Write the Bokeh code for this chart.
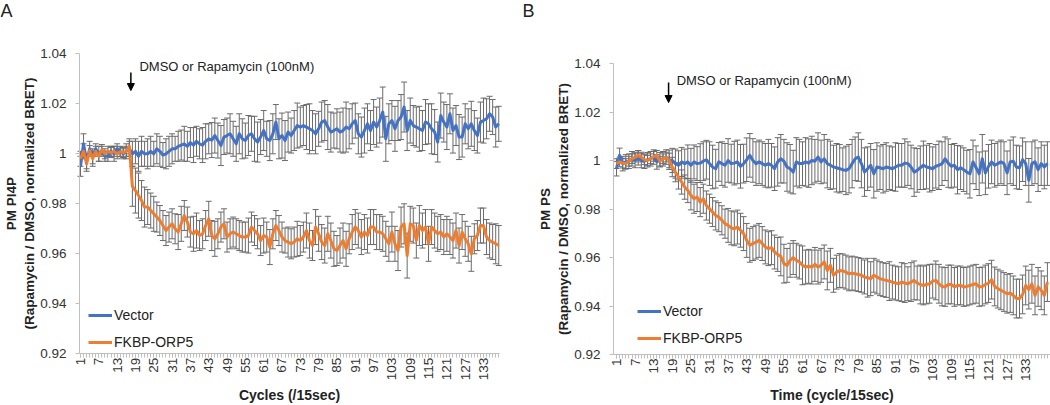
import math
from bokeh.plotting import figure
from bokeh.layouts import row
from bokeh.models import (ColumnDataSource, Whisker, TeeHead, Range1d, FixedTicker,
                          Legend, LegendItem, Label, Arrow, NormalHead)
from bokeh.embed import file_html
from bokeh.resources import INLINE

# ---------------- data ----------------
x_tick_pos = [1, 7, 13, 19, 25, 31, 37, 43, 49, 55, 61, 67, 73, 79, 85, 91, 97, 103, 109, 115, 121, 127, 133]
x_tick_labels = ["1", "7", "13", "19", "25", "31", "37", "43", "49", "55", "61", "67", "73", "79", "85",
                 "91", "97", "103", "109", "115", "121", "127", "133"]
y_tick_values = [0.92, 0.94, 0.96, 0.98, 1.0, 1.02, 1.04]
y_tick_labels = ["0.92", "0.94", "0.96", "0.98", "1", "1.02", "1.04"]
series_names = ["Vector", "FKBP-ORP5"]

# Panel A: PM PI4P (138 cycles)
a_vector = [0.995, 1.004, 0.997, 1.002, 0.999, 1.002, 1.000, 1.001, 0.999, 0.999, 1.001, 1.000, 1.002, 1.001, 1.000, 1.001, 1.002,
            1.000, 1.001, 0.999, 1.001, 1.000, 1.000, 1.001, 1.000, 1.002, 1.001, 0.9995, 1.000, 1.001, 1.002, 1.002,
            1.003, 1.0035, 1.004, 1.003, 1.0045, 1.0035, 1.005, 1.004, 1.0035, 1.005, 1.006, 1.0055, 1.0073,
            1.0053, 1.0033, 1.0067, 1.0073, 1.008, 1.006, 1.004, 1.008, 1.006, 1.0053, 1.0073, 1.008, 1.006, 1.0047, 1.0067, 1.0093,
            1.006, 1.0053, 1.008, 1.0127, 1.006, 1.0073, 1.0053, 1.0087, 1.0073, 1.0093, 1.0113, 1.0107, 1.0113, 1.0107, 1.010, 1.0093,
            1.008, 1.010, 1.0127, 1.0133, 1.0107, 1.0087, 1.0093, 1.010, 1.0087, 1.0093, 1.0107, 1.010, 1.012, 1.0133, 1.008, 1.0067,
            1.0093, 1.012, 1.0093, 1.0127, 1.0107, 1.0133, 1.0167, 1.006, 1.012, 1.0133, 1.010, 1.0133, 1.0147, 1.0187, 1.0093,
            1.0133, 1.0113, 1.0107, 1.010, 1.0093, 1.0127, 1.012, 1.010, 1.0087, 1.0047, 1.0153, 1.0127, 1.0107, 1.016, 1.0093,
            1.0113, 1.0067, 1.0067, 1.012, 1.010, 1.012, 1.0093, 1.0073, 1.0127, 1.0133, 1.014, 1.016, 1.0147, 1.0107, 1.012]
a_fkbp = [0.998, 1.001, 0.996, 1.0013, 0.998, 1.001, 0.999, 1.0017, 1.000, 1.001, 1.0005, 1.001, 1.000, 1.0008, 1.0005, 1.001, 1.003,
          0.987, 0.9853, 0.9833, 0.9813, 0.9787, 0.9787, 0.9773, 0.976, 0.9747, 0.9733, 0.9713, 0.9693, 0.9707, 0.972, 0.970,
          0.9687, 0.972, 0.9753, 0.9727, 0.9687, 0.968, 0.9693, 0.9673, 0.968, 0.9713, 0.974, 0.9673, 0.966,
          0.968, 0.9707, 0.972, 0.9667, 0.968, 0.9687, 0.968, 0.9673, 0.9667, 0.9667, 0.9673, 0.9707, 0.9693, 0.968, 0.9653, 0.9673,
          0.9667, 0.9627, 0.968, 0.9713, 0.9693, 0.9667, 0.9653, 0.9647, 0.964, 0.9647, 0.966, 0.9653, 0.9667, 0.9693, 0.9653, 0.9633,
          0.9707, 0.968, 0.9647, 0.9633, 0.968, 0.9653, 0.962, 0.9613, 0.9633, 0.9653, 0.962, 0.966, 0.9687, 0.9707, 0.9693, 0.9667,
          0.9687, 0.9673, 0.9707, 0.9707, 0.9687, 0.9687, 0.968, 0.966, 0.964, 0.9687, 0.964, 0.9613, 0.9707, 0.972, 0.9593,
          0.972, 0.9713, 0.9653, 0.9713, 0.9693, 0.9707, 0.964, 0.9707, 0.9693, 0.968, 0.9687, 0.9667, 0.968, 0.9667, 0.9653,
          0.9693, 0.9633, 0.9687, 0.966, 0.964, 0.960, 0.966, 0.9673, 0.9713, 0.9713, 0.9667, 0.9653, 0.9647, 0.964, 0.9633]
# error bars, in thousandths
a_vector_err = [4, 4, 3, 3, 3, 2, 3, 2, 2, 2, 2, 3, 2, 2, 2, 3, 3,
                5, 5, 6, 6, 5, 6, 6, 5, 6, 6, 5, 6, 6, 6, 5, 6, 6, 7, 6, 6, 7, 6, 6, 7, 7, 6, 7, 7,
                7, 8, 7, 7, 8, 7, 7, 8, 8, 7, 8, 7, 9, 8, 7, 8, 7, 8, 8, 7, 8, 9, 8, 8, 7, 8, 9, 8, 8, 9,
                10, 8, 8, 7, 8, 8, 9, 8, 7, 8, 8, 9, 10, 8, 8, 7, 8, 8,
                9, 8, 8, 9, 8, 9, 10, 9, 8, 8, 9, 8, 9, 10, 8, 9, 8, 8, 9, 8, 9, 8, 10, 9, 8, 9, 8, 9, 8, 9,
                8, 9, 8, 8, 8, 9, 8, 7, 8, 9, 8, 7, 7, 8, 7]
a_fkbp_err = [3, 3, 3, 2, 3, 2, 2, 2, 2, 2, 2, 2, 2, 2, 2, 2, 3,
              8, 9, 9, 8, 8, 7, 7, 7, 6, 6, 6, 6, 6, 6, 6, 7, 7, 6, 6, 6, 7, 7, 6, 6, 6, 7, 6, 7,
              6, 6, 6, 6, 6, 6, 6, 6, 6, 6, 7, 6, 6, 6, 6, 7, 6, 7, 6, 6, 6, 6, 5, 6, 6, 6, 7, 6, 6, 7,
              7, 6, 7, 7, 7, 7, 7, 7, 7, 6, 7, 7, 7, 6, 7, 7, 7, 7,
              7, 7, 7, 7, 7, 7, 7, 7, 7, 8, 7, 8, 8, 8, 9, 7, 7, 7, 8, 7, 7, 7, 7, 7, 7, 7, 7, 7, 7, 7,
              7, 7, 7, 7, 7, 7, 6, 6, 7, 7, 7, 7, 7, 8, 8]

# Panel B: PM PS (140 cycles)
b_vector = [0.9967, 1.0022, 0.9988, 0.9995, 0.9998, 1.0008, 1.0001, 1.0012, 1.0001, 0.9998,
            1.0004, 1.0008, 1.0015, 0.9995, 1.0004, 1.0008, 1.0015, 1.0004, 1.0001, 0.9988,
            0.9981, 0.9995, 0.9988, 0.9995, 0.9981, 0.9995, 0.9988, 0.999, 0.9998, 1.0004,
            0.9988, 0.9974, 0.9967, 0.9995, 0.9988, 0.9981, 1.0001, 0.9988, 0.999, 0.9995,
            0.9977, 0.9988, 1.0004, 1.0022, 1.0001, 0.9988,
            0.9995, 0.9988, 0.9981, 0.9988, 0.9981, 0.9967, 0.9995, 1.0008, 0.9998, 0.9974,
            0.9967, 0.9953, 0.9995, 0.9988, 0.9988, 0.9995, 0.999, 1.0001, 0.9998, 1.0015,
            0.9995, 1.0008, 0.9988, 0.9981, 0.9974, 0.9971, 0.9967, 0.9963, 0.996, 0.9967,
            0.9988, 1.0008, 1.0015, 0.9988, 0.9953, 0.9967, 0.9981, 0.9946, 0.9974, 0.9971,
            0.9967, 0.9974, 0.9971, 0.9967, 0.9974, 0.9981,
            0.9981, 0.999, 0.9988, 0.9974, 0.9953, 0.996, 0.9971, 0.9981, 0.9974, 0.9971,
            0.9967, 0.9977, 0.9981, 0.9988, 1.0008, 0.999, 0.9977, 0.9981, 0.9963, 0.9971,
            0.9963, 0.9953, 0.9946, 0.9995, 0.9971, 0.9946, 1.0008, 0.995, 0.9977, 0.9995,
            0.9981, 0.9988, 0.9995, 0.9988, 0.995, 0.9995, 0.9998, 0.9974, 0.9971, 1.0004,
            0.9988, 0.9919, 0.9988, 0.9995, 0.9963, 0.9988, 0.9974, 0.9988]
b_fkbp = [0.9988, 0.9995, 0.999, 0.9988, 0.9998, 1.0008, 1.0015, 1.0022, 1.0015, 1.0004,
          1.0001, 1.0008, 1.0018, 1.0022, 0.9998, 1.0008, 1.0015, 1.0001, 0.9974, 0.9953,
          0.9933, 0.9912, 0.9891, 0.9877, 0.9857, 0.9843, 0.985, 0.9829, 0.9843, 0.9815,
          0.9802, 0.9788, 0.9774, 0.9767, 0.9754, 0.974, 0.9733, 0.9723, 0.9719, 0.9726,
          0.9713, 0.9699, 0.9671, 0.9651, 0.9658,
          0.9664, 0.9671, 0.9658, 0.9644, 0.9637, 0.9641, 0.9623, 0.9613, 0.9605, 0.9575,
          0.9568, 0.9589, 0.96, 0.9589, 0.9582, 0.9568, 0.9561, 0.9564, 0.9561, 0.9572,
          0.9561, 0.9568, 0.9582, 0.9547, 0.9568, 0.9527, 0.954, 0.9547, 0.9545, 0.954,
          0.9533, 0.9536, 0.9533, 0.953, 0.9527, 0.952, 0.9517, 0.9513, 0.9527, 0.952,
          0.9513, 0.9509, 0.9506, 0.9503, 0.9499, 0.9495, 0.9492,
          0.9499, 0.9495, 0.9492, 0.9499, 0.9506, 0.9495, 0.9489, 0.9485, 0.9489, 0.9492,
          0.9503, 0.9506, 0.9492, 0.9481, 0.9479, 0.9489, 0.9489, 0.9479, 0.9485, 0.9485,
          0.9479, 0.9481, 0.9485, 0.9489, 0.9492, 0.9479, 0.9481, 0.9489, 0.9495, 0.9509,
          0.9481, 0.9472, 0.9465, 0.9458, 0.9451, 0.9454, 0.9444, 0.9431, 0.9431, 0.9448,
          0.9485, 0.9468, 0.9492, 0.9444, 0.9479, 0.9465, 0.9444, 0.9499]
b_vector_err = [3, 3, 3, 3, 3, 3, 3, 3, 3, 3, 3, 3, 3, 3, 3, 3, 3,
                4, 5, 6, 6, 6, 6, 7, 7, 7, 7, 8, 8, 8, 9, 9, 8, 8, 9, 9, 9, 8, 9, 9, 9, 8, 9, 9, 9, 9,
                9, 9, 9, 10, 9, 9, 10, 10, 9, 10, 10, 9, 10, 10, 9, 10, 10, 10, 9, 10, 9, 10, 10, 10, 9,
                10, 10, 9, 10, 10, 10, 9, 10, 10, 10, 9, 9, 10, 10, 9, 10, 10, 9, 9, 10, 9,
                9, 10, 9, 9, 10, 9, 9, 10, 9, 10, 9, 9, 10, 9, 9, 10, 9, 9, 10, 9, 9, 9, 10, 9, 9, 9,
                10, 9, 9, 9, 9, 9, 9, 9, 9, 9, 10, 9, 9, 9, 9, 9, 9, 9, 9, 9, 9, 9]
b_fkbp_err = [2, 2, 2, 2, 2, 2, 2, 2, 2, 2, 2, 2, 2, 2, 2, 2, 2,
              3, 4, 4, 5, 5, 5, 5, 6, 6, 6, 6, 6, 6, 6, 6, 6, 6, 6, 6, 7, 7, 7, 7, 7, 7, 7, 7, 7,
              7, 7, 7, 7, 7, 7, 7, 7, 8, 8, 7, 7, 7, 7, 7, 8, 7, 7, 7, 7, 7, 7, 7, 8, 7, 7, 7, 7, 7, 7,
              7, 7, 7, 7, 7, 7, 8, 7, 7, 7, 7, 7, 7, 8, 7, 7, 7,
              8, 8, 7, 8, 8, 7, 8, 8, 8, 8, 7, 8, 8, 8, 8, 8, 8, 8, 8, 8, 8, 8, 8, 8, 8, 8, 8, 8, 8, 8,
              8, 8, 8, 8, 8, 8, 8, 8, 8, 8, 8, 8, 8, 8, 8, 8, 8, 8]

assert len(a_vector) == len(a_fkbp) == len(a_vector_err) == len(a_fkbp_err) == 138
assert len(b_vector) == len(b_fkbp) == len(b_vector_err) == len(b_fkbp_err) == 140

BLUE = "#4472C4"
ORANGE = "#ED7D31"
ERR = "#6b6b6b"
AXIS = "#bfbfbf"
FONT = "Liberation Sans"
HEIGHT = 405   # Bokeh's page template has no body margin


def panel(letter, ytitle, xtitle, vec, fkbp, vec_err, fkbp_err, width, xr, yr,
          x_axis_bounds, xlabel_standoff, arrow_x, arrow_y0, arrow_y1, note_x, note_y,
          legend_loc, letter_dx):
    cycles = list(range(1, len(vec) + 1))
    # the frame fills the whole canvas; axes are pinned at fixed data locations
    p = figure(width=width, height=HEIGHT, output_backend="svg", toolbar_location=None,
               x_range=Range1d(*xr), y_range=Range1d(*yr), min_border=0, title=None)
    p.outline_line_color = None
    p.xgrid.visible = False
    p.ygrid.visible = False
    p.background_fill_color = "white"
    p.border_fill_color = "white"

    renderers = []
    for vals, errs, color in ((vec, vec_err, BLUE), (fkbp, fkbp_err, ORANGE)):
        src = ColumnDataSource(dict(
            x=cycles, y=vals,
            upper=[v + e / 1000 for v, e in zip(vals, errs)],
            lower=[v - e / 1000 for v, e in zip(vals, errs)]))
        w = Whisker(base="x", upper="upper", lower="lower", source=src,
                    line_color=ERR, line_width=1, level="underlay",
                    upper_head=TeeHead(size=6, line_color=ERR, line_width=1),
                    lower_head=TeeHead(size=6, line_color=ERR, line_width=1))
        p.add_layout(w)
        r = p.line("x", "y", source=src, line_color=color, line_width=3, line_join="round")
        renderers.append(r)

    # x axis (category axis: one minor tick per cycle)
    xa = p.xaxis[0]
    xa.fixed_location = y_tick_values[0]
    xa.bounds = x_axis_bounds
    xa.ticker = FixedTicker(ticks=x_tick_pos, minor_ticks=cycles)
    xa.major_label_overrides = {t: l for t, l in zip(x_tick_pos, x_tick_labels)}
    xa.major_label_orientation = math.pi / 2
    xa.axis_line_color = AXIS
    xa.major_tick_line_color = AXIS
    xa.minor_tick_line_color = AXIS
    xa.major_tick_in = 0
    xa.major_tick_out = 4
    xa.minor_tick_in = 0
    xa.minor_tick_out = 4
    xa.major_label_standoff = 0
    xa.major_label_text_font = FONT
    xa.major_label_text_font_size = "13.5px"
    xa.major_label_text_color = "#333333"
    xa.axis_label = xtitle
    xa.axis_label_text_font = FONT
    xa.axis_label_text_font_style = "bold"
    xa.axis_label_text_font_size = "14px"
    xa.axis_label_text_line_height = 1.0
    xa.axis_label_text_color = "#222222"
    xa.axis_label_standoff = xlabel_standoff

    # y axis
    ya = p.yaxis[0]
    ya.fixed_location = x_axis_bounds[0]
    ya.bounds = (y_tick_values[0], y_tick_values[-1])
    ya.ticker = FixedTicker(ticks=y_tick_values)
    ya.major_label_overrides = {t: l for t, l in zip(y_tick_values, y_tick_labels)}
    ya.axis_line_color = AXIS
    ya.major_tick_line_color = AXIS
    ya.major_tick_in = 0
    ya.major_tick_out = 4
    ya.minor_tick_line_color = None
    ya.major_label_standoff = 9
    ya.major_label_text_font = FONT
    ya.major_label_text_font_size = "13.5px"
    ya.major_label_text_color = "#333333"
    ya.axis_label = ytitle
    ya.axis_label_text_font = FONT
    ya.axis_label_text_font_style = "bold"
    ya.axis_label_text_font_size = "13.5px"
    ya.axis_label_text_line_height = 1.22
    ya.axis_label_text_color = "#222222"
    ya.axis_label_standoff = 0

    legend = Legend(items=[LegendItem(label=series_names[0], renderers=[renderers[0]]),
                           LegendItem(label=series_names[1], renderers=[renderers[1]])],
                    location=legend_loc, padding=0, margin=0, spacing=3,
                    glyph_width=24, glyph_height=24, label_height=24, label_standoff=2,
                    border_line_color=None, background_fill_alpha=0,
                    label_text_font=FONT, label_text_font_size="14px", label_text_color="#222222")
    p.add_layout(legend)

    p.add_layout(Arrow(x_start=arrow_x, y_start=arrow_y0, x_end=arrow_x, y_end=arrow_y1,
                       line_color="black", line_width=1.5,
                       end=NormalHead(size=7, fill_color="black", line_color="black", line_width=1)))
    p.add_layout(Label(x=note_x, y=note_y, text="DMSO or Rapamycin (100nM)", text_baseline="middle",
                       text_align="left", text_font=FONT, text_font_size="13px", text_color="#222222"))
    p.add_layout(Label(x=xr[0], y=yr[1], text=letter, text_baseline="top", text_align="left",
                       x_offset=letter_dx, y_offset=0,
                       text_font=FONT, text_font_size="18px", text_color="#222222"))
    return p


# Panel A canvas spans page x 0..520, y 0..405
pa = panel("A", "PM PI4P\n(Rapamycin / DMSO, normalized BRET)", "Cycles (/15sec)",
           a_vector, a_fkbp, a_vector_err, a_fkbp_err,
           width=520, xr=(-25.20, 145.12), yr=(0.89932, 1.06132),
           x_axis_bounds=(0.6725, 138.1), xlabel_standoff=4,
           arrow_x=17.5, arrow_y0=1.0325, arrow_y1=1.0253, note_x=20.3, note_y=1.0349,
           legend_loc=(88, 51), letter_dx=0)
# Panel B canvas spans page x 520..1050
pb = panel("B", "PM PS\n(Rapamycin / DMSO, normalized BRET)", "Time (cycle/15sec)",
           b_vector, b_fkbp, b_vector_err, b_fkbp_err,
           width=530, xr=(-29.97, 141.0), yr=(0.89895, 1.06613),
           x_axis_bounds=(0.032, 141.0), xlabel_standoff=3,
           arrow_x=17.8, arrow_y0=1.0323, arrow_y1=1.024, note_x=20.4, note_y=1.0331,
           legend_loc=(117, 55), letter_dx=2)

layout = row(pa, pb, spacing=0)
open("out.html", "w").write(file_html(layout, INLINE))
